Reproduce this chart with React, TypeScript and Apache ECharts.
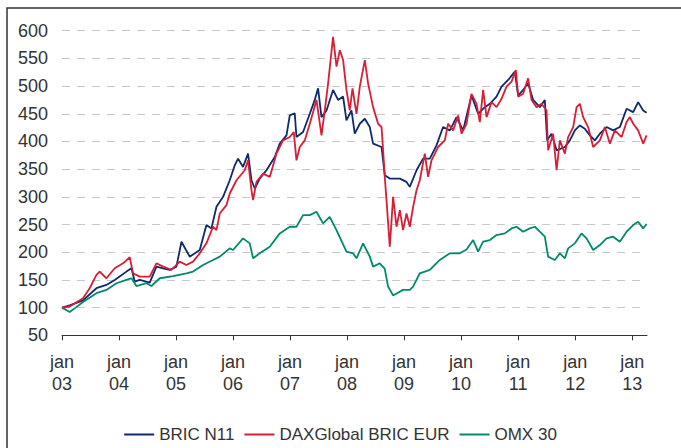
import React, { useEffect, useRef } from "react";
import * as echarts from "echarts";

const years = [2003, 2004, 2005, 2006, 2007, 2008, 2009, 2010, 2011, 2012, 2013];
const seriesNames = ["BRIC N11", "DAXGlobal BRIC EUR", "OMX 30"];

const bricDates = [
  2003.0, 2003.135, 2003.368, 2003.604, 2003.779, 2003.925, 2004.13, 2004.218, 2004.275, 2004.363,
  2004.539, 2004.656, 2004.772, 2004.889, 2005.007, 2005.095, 2005.24, 2005.416, 2005.533, 2005.621,
  2005.709, 2005.825, 2005.942, 2006.03, 2006.088, 2006.175, 2006.263, 2006.323, 2006.381, 2006.468,
  2006.586, 2006.732, 2006.819, 2006.937, 2006.995, 2007.082, 2007.112, 2007.228, 2007.346, 2007.433,
  2007.491, 2007.551, 2007.639, 2007.754, 2007.842, 2007.93, 2007.989, 2008.077, 2008.135, 2008.223,
  2008.311, 2008.398, 2008.456, 2008.604, 2008.661, 2008.749, 2008.925, 2009.042, 2009.1, 2009.218,
  2009.333, 2009.451, 2009.568, 2009.684, 2009.802, 2009.919, 2010.035, 2010.182, 2010.298, 2010.416,
  2010.504, 2010.621, 2010.709, 2010.825, 2010.942, 2011.0, 2011.088, 2011.175, 2011.263, 2011.381,
  2011.468, 2011.509, 2011.586, 2011.674, 2011.819, 2011.907, 2011.995, 2012.082, 2012.17, 2012.258,
  2012.346, 2012.433, 2012.551, 2012.667, 2012.784, 2012.902, 2013.018, 2013.105, 2013.193, 2013.253,
];
const bricValues = [
  100, 104, 113, 135, 141, 150, 165, 171, 147, 150,
  145, 174, 171, 168, 174, 219, 192, 204, 249, 243,
  282, 300, 330, 357, 369, 354, 378, 330, 315, 333,
  348, 372, 396, 411, 447, 451, 408, 417, 450, 475,
  496, 444, 456, 493, 475, 481, 438, 456, 414, 432,
  441, 426, 396, 390, 339, 333, 333, 327, 318, 348,
  369, 369, 393, 426, 420, 444, 420, 483, 450, 462,
  468, 481, 499, 511, 526, 483, 493, 505, 475, 462,
  475, 402, 414, 384, 390, 402, 420, 429, 423, 411,
  402, 414, 426, 420, 426, 459, 453, 471, 456, 452,
];

const daxDates = [
  2003.0, 2003.135, 2003.368, 2003.486, 2003.604, 2003.661, 2003.779, 2003.925, 2004.07, 2004.188,
  2004.246, 2004.363, 2004.539, 2004.656, 2004.772, 2004.919, 2005.065, 2005.182, 2005.298, 2005.416,
  2005.533, 2005.649, 2005.709, 2005.767, 2005.884, 2005.942, 2006.06, 2006.205, 2006.263, 2006.323,
  2006.351, 2006.411, 2006.526, 2006.644, 2006.761, 2006.877, 2006.995, 2007.065, 2007.112, 2007.17,
  2007.258, 2007.346, 2007.463, 2007.551, 2007.609, 2007.667, 2007.754, 2007.814, 2007.872, 2007.93,
  2007.989, 2008.047, 2008.095, 2008.165, 2008.223, 2008.311, 2008.368, 2008.456, 2008.544, 2008.604,
  2008.632, 2008.661, 2008.691, 2008.749, 2008.807, 2008.867, 2008.925, 2008.982, 2009.042, 2009.1,
  2009.158, 2009.218, 2009.275, 2009.363, 2009.421, 2009.481, 2009.539, 2009.596, 2009.714, 2009.772,
  2009.86, 2009.947, 2010.007, 2010.095, 2010.182, 2010.27, 2010.328, 2010.386, 2010.446, 2010.533,
  2010.621, 2010.709, 2010.796, 2010.884, 2010.96, 2011.0, 2011.088, 2011.175, 2011.235, 2011.323,
  2011.411, 2011.498, 2011.526, 2011.614, 2011.674, 2011.732, 2011.819, 2011.877, 2011.965, 2012.025,
  2012.082, 2012.14, 2012.228, 2012.316, 2012.433, 2012.521, 2012.609, 2012.696, 2012.814, 2012.902,
  2012.96, 2013.018, 2013.105, 2013.193, 2013.253,
];
const daxValues = [
  100, 102, 117, 135, 159, 165, 153, 171, 180, 191,
  162, 156, 156, 180, 174, 168, 183, 177, 183, 198,
  216, 246, 240, 270, 285, 306, 330, 348, 366, 312,
  294, 327, 342, 336, 378, 402, 408, 417, 366, 390,
  402, 432, 475, 411, 456, 505, 589, 535, 565, 547,
  493, 456, 496, 450, 499, 547, 505, 462, 432, 426,
  384, 336, 294, 210, 300, 246, 276, 240, 270, 246,
  282, 312, 330, 378, 336, 366, 378, 390, 402, 432,
  420, 447, 414, 432, 486, 468, 435, 493, 444, 471,
  462, 477, 499, 508, 529, 481, 486, 514, 475, 462,
  468, 456, 384, 414, 348, 402, 378, 408, 426, 462,
  468, 444, 426, 390, 402, 426, 396, 420, 408, 435,
  444, 432, 420, 396, 411,
];

const omxDates = [
  2003.0, 2003.135, 2003.24, 2003.368, 2003.604, 2003.779, 2003.954, 2004.13, 2004.218, 2004.305,
  2004.481, 2004.568, 2004.714, 2004.947, 2005.182, 2005.298, 2005.474, 2005.649, 2005.767, 2005.942,
  2006.0, 2006.175, 2006.293, 2006.351, 2006.468, 2006.644, 2006.819, 2006.995, 2007.112, 2007.228,
  2007.346, 2007.463, 2007.579, 2007.696, 2007.814, 2007.989, 2008.105, 2008.165, 2008.281, 2008.398,
  2008.456, 2008.574, 2008.661, 2008.719, 2008.807, 2008.982, 2009.1, 2009.158, 2009.275, 2009.451,
  2009.626, 2009.802, 2009.977, 2010.095, 2010.211, 2010.298, 2010.386, 2010.504, 2010.621, 2010.767,
  2010.884, 2010.972, 2011.088, 2011.205, 2011.293, 2011.381, 2011.468, 2011.526, 2011.644, 2011.732,
  2011.819, 2011.877, 2011.995, 2012.112, 2012.2, 2012.316, 2012.433, 2012.551, 2012.667, 2012.784,
  2012.902, 2013.018, 2013.105, 2013.193, 2013.253,
];
const omxValues = [
  100, 92, 100, 110, 126, 132, 144, 150, 153, 139,
  144, 139, 153, 157, 162, 165, 177, 186, 192, 207,
  204, 225, 216, 189, 198, 210, 234, 246, 246, 267,
  267, 273, 252, 264, 240, 201, 198, 189, 216, 192,
  174, 180, 170, 138, 122, 132, 132, 138, 162, 168,
  186, 198, 198, 205, 222, 201, 219, 222, 231, 234,
  243, 246, 237, 243, 246, 237, 228, 192, 186, 198,
  189, 207, 216, 234, 225, 204, 213, 225, 228, 219,
  237, 249, 255, 243, 251,
];

const colors = ["#0c2a6c", "#d81e34", "#008a6b"];

function pairs(d: number[], v: number[]) {
  return d.map((x, i) => [x, v[i]]);
}

export default function App() {
  const ref = useRef<HTMLDivElement>(null);
  useEffect(() => {
    document.body.style.margin = "0";
    const chart = echarts.init(ref.current!, undefined, { renderer: "svg" });
    const font = "'Liberation Sans', Arial, sans-serif";
    chart.setOption({
      animation: false,
      backgroundColor: "#ffffff",
      textStyle: { fontFamily: font },
      graphic: [
        {
          type: "rect",
          shape: { x: 7, y: 8, width: 720, height: 480 },
          style: { fill: "none", stroke: "#333333", lineWidth: 1.5 },
          silent: true,
        },
      ],
      grid: { left: 62, right: 34, top: 30.7, bottom: 112.7 },
      legend: {
        data: seriesNames,
        left: "center",
        top: 421,
        icon: "rect",
        itemWidth: 30,
        itemHeight: 2,
        itemGap: 10,
        textStyle: { fontSize: 17, color: "#333333", fontFamily: font },
      },
      xAxis: {
        type: "value",
        min: 2003,
        max: 2013.26,
        interval: 1,
        axisLine: { show: true, onZero: false, lineStyle: { color: "#333333", width: 1 } },
        axisTick: { show: true, length: 5, customValues: years, lineStyle: { color: "#333333" } },
        axisLabel: {
          customValues: years,
          formatter: (v: number) => "jan\n" + String(Math.round(v)).slice(2),
          fontSize: 18,
          lineHeight: 22,
          color: "#333333",
          margin: 16,
        },
        splitLine: { show: false },
      },
      yAxis: {
        type: "value",
        min: 50,
        max: 600,
        interval: 50,
        axisLine: { show: false },
        axisTick: { show: false },
        axisLabel: { fontSize: 18, color: "#333333", margin: 14 },
        splitLine: { show: true, lineStyle: { color: "#c8c8c8", type: [8, 7], width: 1 } },
      },
      series: [
        { name: seriesNames[0], data: pairs(bricDates, bricValues) },
        { name: seriesNames[1], data: pairs(daxDates, daxValues) },
        { name: seriesNames[2], data: pairs(omxDates, omxValues) },
      ].map((s, i) => ({
        ...s,
        type: "line",
        showSymbol: false,
        symbol: "none",
        color: colors[i],
        lineStyle: { color: colors[i], width: 1.8 },
        z: i === 1 ? 3 : 2,
      })),
    });
    return () => chart.dispose();
  }, []);
  return <div ref={ref} style={{ width: 681, height: 448 }} />;
}
